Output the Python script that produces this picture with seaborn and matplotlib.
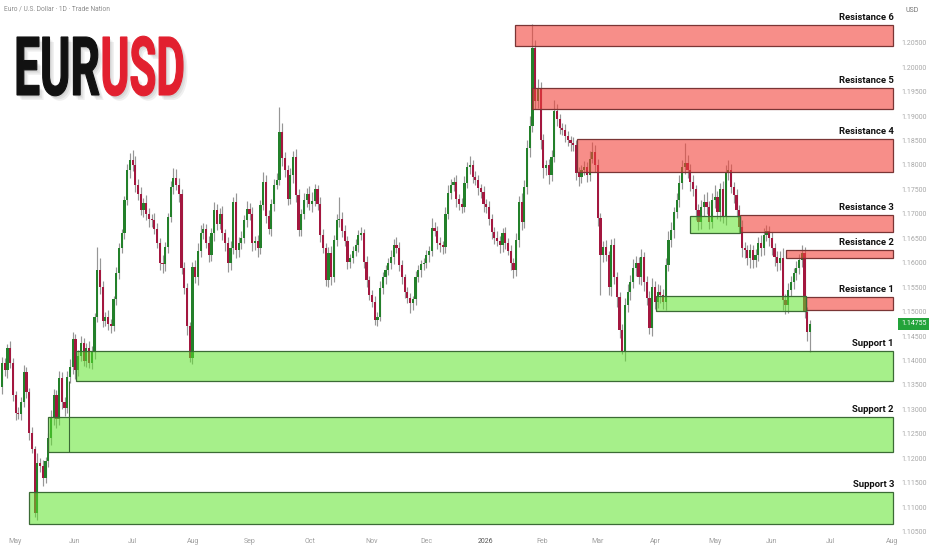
import numpy as np
import pandas as pd
import seaborn as sns
import matplotlib
matplotlib.use('Agg')
import matplotlib.pyplot as plt
import matplotlib.transforms as mtransforms
from matplotlib.patches import Rectangle, PathPatch
from matplotlib.textpath import TextPath
from matplotlib.font_manager import FontProperties, findfont

# ---- data (EUR/USD daily) ----
first_open = 1.1345
closes = [
    1.1395, 1.1380, 1.1425, 1.1395, 1.1330, 1.1293, 1.1290, 1.1315, 1.1377, 1.1335,
    1.1252, 1.1220, 1.1088, 1.1190, 1.1185, 1.1160, 1.1195, 1.1241, 1.1285, 1.1330,
    1.1280, 1.1364, 1.1315, 1.1302, 1.1366, 1.1386, 1.1445, 1.1380, 1.1410, 1.1435,
    1.1400, 1.1425, 1.1395, 1.1420, 1.1489, 1.1585, 1.1550, 1.1480, 1.1490, 1.1475,
    1.1470, 1.1525, 1.1580, 1.1630, 1.1660, 1.1728, 1.1790, 1.1810, 1.1800, 1.1759,
    1.1740, 1.1708, 1.1723, 1.1700, 1.1690, 1.1687, 1.1670, 1.1640, 1.1600, 1.1598,
    1.1632, 1.1693, 1.1755, 1.1773, 1.1760, 1.1740, 1.1590, 1.1548, 1.1470, 1.1405,
    1.1592, 1.1570, 1.1625, 1.1660, 1.1670, 1.1640, 1.1616, 1.1660, 1.1707, 1.1680,
    1.1700, 1.1660, 1.1640, 1.1600, 1.1630, 1.1725, 1.1626, 1.1640, 1.1650, 1.1687,
    1.1710, 1.1700, 1.1640, 1.1645, 1.1630, 1.1718, 1.1765, 1.1695, 1.1670, 1.1720,
    1.1760, 1.1770, 1.1867, 1.1814, 1.1790, 1.1730, 1.1780, 1.1816, 1.1738, 1.1667,
    1.1700, 1.1728, 1.1740, 1.1720, 1.1726, 1.1750, 1.1720, 1.1656, 1.1630, 1.1565,
    1.1620, 1.1570, 1.1646, 1.1687, 1.1690, 1.1665, 1.1645, 1.1601, 1.1610, 1.1625,
    1.1637, 1.1657, 1.1660, 1.1601, 1.1565, 1.1535, 1.1520, 1.1483, 1.1490, 1.1548,
    1.1570, 1.1585, 1.1600, 1.1612, 1.1636, 1.1630, 1.1595, 1.1570, 1.1540, 1.1528,
    1.1518, 1.1525, 1.1571, 1.1585, 1.1597, 1.1600, 1.1615, 1.1625, 1.1672, 1.1665,
    1.1640, 1.1637, 1.1632, 1.1700, 1.1742, 1.1760, 1.1765, 1.1730, 1.1720, 1.1715,
    1.1763, 1.1795, 1.1800, 1.1775, 1.1770, 1.1753, 1.1745, 1.1720, 1.1715, 1.1690,
    1.1662, 1.1650, 1.1645, 1.1636, 1.1660, 1.1640, 1.1625, 1.1600, 1.1585, 1.1646,
    1.1724, 1.1683, 1.1755, 1.1834, 1.1880, 1.2040, 1.1930, 1.1955, 1.1851, 1.1793,
    1.1800, 1.1780, 1.1816, 1.1910, 1.1893, 1.1875, 1.1872, 1.1860, 1.1851, 1.1845,
    1.1840, 1.1783, 1.1775, 1.1790, 1.1795, 1.1780, 1.1813, 1.1826, 1.1800, 1.1691,
    1.1616, 1.1632, 1.1615, 1.1550, 1.1636, 1.1570, 1.1530, 1.1463, 1.1418, 1.1513,
    1.1540, 1.1560, 1.1590, 1.1600, 1.1570, 1.1612, 1.1560, 1.1528, 1.1466, 1.1550,
    1.1520, 1.1540, 1.1535, 1.1520, 1.1595, 1.1646, 1.1667, 1.1703, 1.1728, 1.1763,
    1.1796, 1.1804, 1.1790, 1.1765, 1.1750, 1.1708, 1.1683, 1.1714, 1.1724, 1.1715,
    1.1683, 1.1728, 1.1734, 1.1704, 1.1750, 1.1693, 1.1783, 1.1790, 1.1755, 1.1738,
    1.1708, 1.1673, 1.1630, 1.1626, 1.1610, 1.1626, 1.1605, 1.1615, 1.1640, 1.1630,
    1.1657, 1.1665, 1.1650, 1.1630, 1.1612, 1.1600, 1.1610, 1.1524, 1.1513, 1.1545,
    1.1560, 1.1580, 1.1590, 1.1605, 1.1620, 1.1499, 1.1459, 1.14755,
]
# wick lengths above / below the body, in pips
wick_up = [
    12, 10, 8, 15, 10, 8, 12, 10, 14, 10, 8, 12, 6, 20, 10, 12, 8, 10, 14, 12,
    10, 15, 12, 10, 12, 18, 14, 10, 12, 16, 12, 10, 14, 10, 8, 47, 25, 12, 10, 14,
    10, 8, 12, 10, 10, 8, 12, 14, 20, 18, 12, 14, 10, 16, 12, 10, 14, 12, 10, 15,
    10, 8, 12, 20, 18, 14, 10, 12, 10, 8, 10, 14, 16, 18, 12, 10, 14, 12, 18, 14,
    12, 16, 10, 12, 14, 10, 18, 12, 14, 10, 16, 12, 14, 10, 12, 10, 20, 14, 12, 10,
    12, 14, 51, 18, 12, 10, 14, 12, 16, 12, 10, 14, 12, 16, 18, 12, 10, 14, 12, 10,
    12, 14, 10, 12, 45, 14, 12, 10, 8, 10, 12, 10, 14, 10, 12, 8, 10, 12, 10, 14,
    12, 10, 10, 14, 12, 16, 12, 10, 8, 10, 10, 8, 12, 10, 8, 10, 12, 10, 20, 12,
    10, 12, 8, 14, 16, 12, 10, 14, 10, 12, 14, 12, 18, 10, 12, 10, 8, 12, 10, 12,
    10, 12, 14, 10, 12, 14, 10, 12, 10, 14, 12, 18, 14, 16, 20, 48, 15, 20, 14, 12,
    10, 12, 14, 23, 14, 12, 10, 12, 10, 8, 12, 10, 12, 10, 14, 12, 16, 20, 14, 12,
    10, 12, 14, 10, 12, 14, 12, 10, 12, 14, 16, 14, 18, 14, 12, 16, 10, 12, 14, 18,
    12, 16, 14, 12, 14, 18, 16, 12, 14, 16, 14, 41, 16, 12, 14, 10, 12, 14, 16, 20,
    12, 14, 25, 12, 14, 18, 16, 20, 12, 10, 12, 10, 14, 12, 10, 12, 10, 14, 12, 16,
    14, 12, 10, 12, 10, 12, 14, 20, 12, 14, 12, 10, 14, 12, 16, 12, 10, 8,
]
wick_dn = [
    14, 12, 16, 10, 12, 14, 10, 12, 10, 12, 14, 10, 8, 14, 12, 16, 10, 12, 14, 16,
    18, 12, 14, 16, 10, 12, 14, 18, 12, 10, 12, 14, 10, 12, 16, 10, 14, 12, 10, 12,
    14, 10, 12, 14, 10, 12, 10, 16, 12, 14, 12, 10, 14, 12, 16, 14, 12, 10, 14, 18,
    14, 12, 10, 14, 12, 16, 14, 12, 18, 8, 13, 12, 16, 14, 12, 10, 14, 12, 16, 14,
    12, 14, 16, 18, 14, 12, 16, 14, 12, 10, 14, 12, 16, 14, 18, 12, 10, 14, 12, 16,
    14, 10, 12, 16, 14, 12, 10, 16, 14, 12, 12, 10, 14, 12, 16, 10, 12, 14, 10, 12,
    14, 16, 10, 12, 14, 12, 10, 14, 12, 10, 12, 14, 10, 12, 14, 12, 10, 10, 12, 10,
    12, 14, 10, 12, 14, 10, 12, 14, 12, 10, 21, 14, 12, 10, 14, 12, 10, 14, 12, 10,
    12, 16, 14, 12, 10, 12, 14, 16, 12, 14, 12, 10, 14, 12, 10, 14, 12, 16, 14, 12,
    14, 12, 10, 16, 14, 12, 10, 14, 16, 12, 14, 16, 12, 14, 18, 12, 16, 14, 18, 20,
    14, 18, 12, 10, 14, 12, 10, 14, 12, 16, 12, 14, 18, 12, 10, 14, 12, 10, 14, 16,
    82, 14, 12, 16, 18, 14, 20, 16, 5, 18, 14, 16, 12, 18, 14, 16, 18, 14, 12, 16,
    14, 12, 18, 14, 16, 12, 14, 16, 12, 14, 12, 14, 16, 18, 14, 20, 16, 14, 18, 16,
    14, 12, 16, 14, 18, 12, 16, 14, 12, 16, 14, 12, 18, 16, 14, 20, 16, 14, 12, 16,
    14, 12, 16, 14, 18, 16, 14, 20, 18, 16, 12, 14, 16, 12, 14, 12, 18, 42,
]

# month labels (bar positions)
month_pos = [4.8, 26.8, 47.8, 70.2, 91.2, 113.2, 136.0, 155.9, 177.6,
             198.5, 218.8, 240.0, 262.0, 283.0, 304.4, 327.2]
month_labels = ['May', 'Jun', 'Jul', 'Aug', 'Sep', 'Oct', 'Nov', 'Dec', '2026',
                'Feb', 'Mar', 'Apr', 'May', 'Jun', 'Jul', 'Aug']

# supply / demand zones
zone_labels = ['Resistance 6', 'Resistance 5', 'Resistance 4', 'Resistance 3',
               'Resistance 2', 'Resistance 1', 'Support 1', 'Support 2', 'Support 3', '', '']
zone_kind = ['r', 'r', 'r', 'r', 'r', 'r', 's', 's', 's', 's', 's']
zone_top = [1.2086, 1.1957, 1.1853, 1.1697, 1.1626, 1.1530, 1.1419, 1.1284, 1.1131, 1.1696, 1.1531]
zone_bottom = [1.2043, 1.1914, 1.1785, 1.1663, 1.1610, 1.1503, 1.1358, 1.1213, 1.1066, 1.1661, 1.1501]
zone_start = [188.6, 194.9, 211.4, 271.3, 288.1, 295.6, 27.2, 16.9, 9.9, 253.0, 240.4]
zone_end = [327.6, 327.6, 327.6, 327.6, 327.6, 327.6, 327.6, 327.6, 327.6, 271.3, 295.6]

# ---- build OHLC ----
df = pd.DataFrame({'close': closes})
df['open'] = [first_open] + closes[:-1]
df['bar'] = np.arange(len(df))
df['high'] = df[['open', 'close']].max(axis=1) + np.array(wick_up) * 1e-4
df['low'] = df[['open', 'close']].min(axis=1) - np.array(wick_dn) * 1e-4
df['up'] = df['close'] >= df['open']

sns.set_theme(style='white')
plt.rcParams['font.family'] = ['Roboto', 'DejaVu Sans']

def pick_family(names):
    for n in names:
        try:
            findfont(FontProperties(family=n), fallback_to_default=False)
            return n
        except ValueError:
            continue
    return 'DejaVu Sans'

narrow = pick_family(['Liberation Sans Narrow', 'Roboto', 'DejaVu Sans'])

GREEN = '#23802a'
RED = '#a3173f'
WICK = '#969696'

fig = plt.figure(figsize=(9.32, 5.5), dpi=100)
fig.patch.set_facecolor('white')
ax = fig.add_axes([0, 1 - 535 / 550, 897 / 932, 535 / 550])

# candles
ax.vlines(df['bar'], df['low'], df['high'], color=WICK, lw=0.85, zorder=1)
body = (df['close'] - df['open']).to_numpy()
body = np.where(np.abs(body) < 0.00012, 0.00012, body)
ax.bar(df['bar'], body, bottom=df['open'], width=0.8,
       color=np.where(df['up'], GREEN, RED), linewidth=0, zorder=2)

# zones
for lab, kind, top, bot, x0, x1 in zip(zone_labels, zone_kind, zone_top,
                                       zone_bottom, zone_start, zone_end):
    if kind == 'r':
        fc, ec = (0.953, 0.263, 0.227, 0.6), '#7a3535'
    else:
        fc, ec = (0.365, 0.894, 0.165, 0.55), '#3b6b35'
    ax.add_patch(Rectangle((x0, bot), x1 - x0, top - bot, facecolor=fc,
                           edgecolor=ec, lw=0.9, zorder=3))
    if lab:
        ax.annotate(lab, xy=(x1, top), xytext=(0.5, 2.2), textcoords='offset points',
                    ha='right', va='bottom', fontsize=6.8, fontweight='bold',
                    family=[narrow, 'DejaVu Sans'], color='#111111', zorder=5)

# marker line inside support 2
ax.vlines(24.6, zone_bottom[7], zone_bottom[6], color='#3b6b35', lw=0.8, zorder=4)

ax.set_xlim(-0.74, 329.0)
ax.set_ylim(1.104325, 1.213732)

ax.set_xticks(month_pos)
ax.set_xticklabels(month_labels)
for t, lab in zip(ax.get_xticklabels(), month_labels):
    t.set_color('#555555' if lab == '2026' else '#a0a0a0')
ax.tick_params(axis='x', length=0, pad=2, labelsize=5)

yt = np.arange(1.105, 1.2051, 0.005)
ax.yaxis.tick_right()
ax.set_yticks(yt)
ax.set_yticklabels([f'{v:.5f}' for v in yt])
ax.tick_params(axis='y', length=0, pad=3, labelsize=5, labelcolor='#a8a8a8')
for s in ax.spines.values():
    s.set_visible(False)
ax.grid(False)

# current price badge
last = closes[-1]
ax.text(1.0185, last, f'{last:.5f}', transform=mtransforms.blended_transform_factory(ax.transAxes, ax.transData),
        ha='center', va='center', fontsize=5, color='white', clip_on=False,
        bbox=dict(boxstyle='square,pad=0.35', fc='#23a33a', ec='none'))

fig.text(905 / 932, 1 - 11 / 550, 'USD', fontsize=5, color='#777777', ha='left', va='center')
fig.text(4 / 932, 1 - 9 / 550, 'Euro / U.S. Dollar · 1D · Trade Nation', fontsize=4.8,
         color='#8c8c8c', ha='left', va='center')

# EURUSD logo
fp = FontProperties(family=narrow, weight='bold')
p_eur = TextPath((0, 0), 'EUR', size=100, prop=fp)
p_usd = TextPath((0, 0), 'USD', size=100, prop=fp)
top_px, base_px = 37, 95
sy = ((base_px - top_px) / 550) / p_eur.get_extents().y1

def draw_word(path, x0, x1, color, dx=0.0, dy=0.0, alpha=1.0, z=10, lw=0.0):
    ext = path.get_extents()
    sx = ((x1 - x0) / 932) / ext.width
    tr = (mtransforms.Affine2D().translate(-ext.x0, 0).scale(sx, sy)
          .translate(x0 / 932 + dx / 932, 1 - base_px / 550 - dy / 550) + fig.transFigure)
    fig.add_artist(PathPatch(path, transform=tr, fc=color, ec=color if lw else 'none',
                             lw=lw, alpha=alpha, zorder=z))

for off in [(1.5, 2.0), (3.0, 3.5), (4.5, 5.0)]:
    draw_word(p_eur, 17, 99, '#000000', off[0], off[1], 0.06, 9)
    draw_word(p_usd, 103, 183, '#000000', off[0], off[1], 0.06, 9)
draw_word(p_eur, 17, 99, '#111111', lw=0.8)
draw_word(p_usd, 103, 183, '#e2202f', lw=0.8)

fig.savefig('out.png', dpi=100)
